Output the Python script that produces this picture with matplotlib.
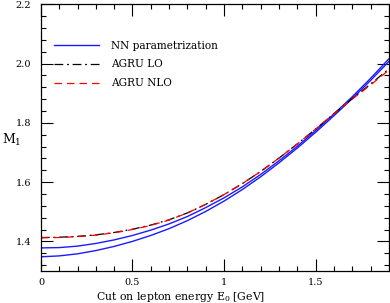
import matplotlib
matplotlib.use('Agg')
import matplotlib.pyplot as plt
from matplotlib.ticker import MultipleLocator

# cut on lepton energy E0 [GeV]
e0 = [0.0, 0.1, 0.2, 0.3, 0.4, 0.5, 0.6, 0.7, 0.8, 0.9,
      1.0, 1.1, 1.2, 1.3, 1.4, 1.5, 1.6, 1.7, 1.8, 1.9]

# NN parametrization band (upper / lower edge)
nn_upper = [1.378, 1.379, 1.384, 1.393, 1.405, 1.420, 1.438, 1.459, 1.484, 1.514,
            1.547, 1.584, 1.626, 1.672, 1.721, 1.774, 1.830, 1.888, 1.950, 2.016]
nn_lower = [1.348, 1.351, 1.358, 1.369, 1.383, 1.400, 1.420, 1.443, 1.470, 1.501,
            1.536, 1.575, 1.618, 1.665, 1.715, 1.768, 1.824, 1.882, 1.943, 2.007]

# AGRU predictions
agru_lo = [1.413, 1.414, 1.417, 1.422, 1.430, 1.441, 1.455, 1.473, 1.496, 1.525,
           1.558, 1.595, 1.636, 1.681, 1.729, 1.779, 1.831, 1.882, 1.931, 1.982]
agru_nlo = [1.412, 1.413, 1.416, 1.421, 1.429, 1.440, 1.454, 1.472, 1.496, 1.525,
            1.558, 1.595, 1.636, 1.681, 1.729, 1.779, 1.831, 1.880, 1.928, 1.978]

plt.rcParams['font.family'] = ['DejaVu Serif']
plt.rcParams['mathtext.fontset'] = 'dejavuserif'

fig = plt.figure(figsize=(3.9, 3.03), dpi=100)
ax = fig.add_axes([0.105, 0.1056, 0.892, 0.88])

ax.plot(e0, nn_upper, color='#1a1aff', lw=1.0, label='NN parametrization')
ax.plot(e0, nn_lower, color='#1a1aff', lw=1.0)
ax.plot(e0, agru_lo, color='black', lw=0.9, dashes=(7, 3, 1.5, 3), label='AGRU LO')
ax.plot(e0, agru_nlo, color='red', lw=0.9, dashes=(6, 4), label='AGRU NLO')

ax.set_xlim(0, 1.9)
ax.set_ylim(1.3, 2.2)
ax.xaxis.set_major_locator(MultipleLocator(0.5))
ax.xaxis.set_minor_locator(MultipleLocator(0.1))
ax.yaxis.set_major_locator(MultipleLocator(0.2))
ax.yaxis.set_minor_locator(MultipleLocator(0.04))
ax.set_xticks([0, 0.5, 1, 1.5])
ax.set_xticklabels(['0', '0.5', '1', '1.5'])
ax.tick_params(which='both', direction='in', top=True, right=True,
               labelsize=7, width=0.8)
ax.tick_params(which='major', length=8.5)
ax.tick_params(axis='x', which='major', pad=5)
ax.tick_params(axis='y', which='major', pad=7)
ax.tick_params(which='minor', length=3.5)
for s in ax.spines.values():
    s.set_linewidth(0.9)

ax.set_xlabel('Cut on lepton energy E$_0$ [GeV]', fontsize=7.8)
ax.xaxis.set_label_coords(0.40, -0.07)
ax.text(-0.085, 0.49, 'M$_1$', transform=ax.transAxes, fontsize=9,
        ha='center', va='center')

leg = ax.legend(loc='upper left', bbox_to_anchor=(0.01, 0.90), frameon=False,
                fontsize=7.6, handlelength=4.3, handletextpad=1.1,
                labelspacing=0.85)

fig.savefig('out.png', dpi=100)
